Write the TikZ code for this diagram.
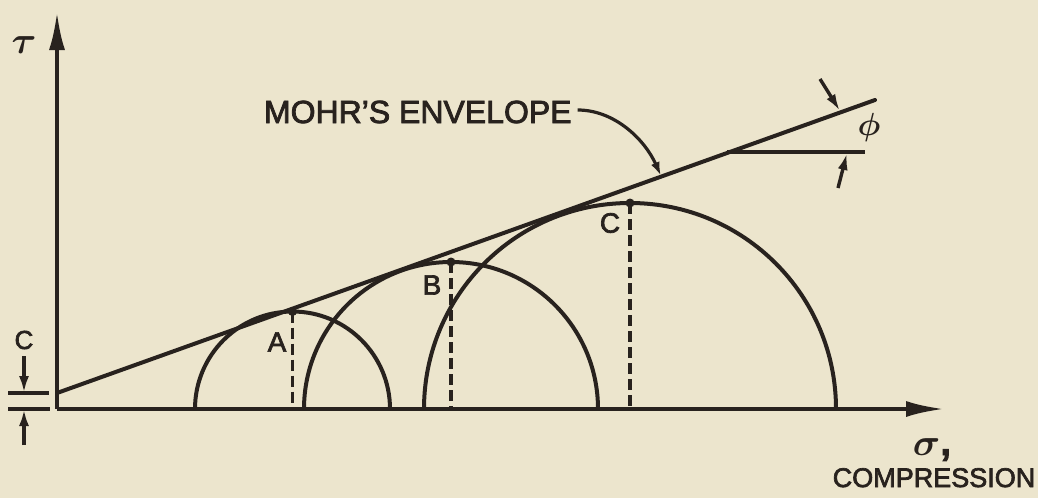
\RequirePackage{fix-cm}
\documentclass[tikz,border=0pt]{standalone}
\usepackage{fontspec}
\setmainfont{Liberation Sans}[FakeBold=2.5]
\usetikzlibrary{arrows.meta}
\definecolor{paper}{RGB}{236,229,205}
\definecolor{ink}{RGB}{40,34,30}
\begin{document}
\begin{tikzpicture}[x=1pt,y=-1pt, line width=4pt, draw=ink,
  axis/.style={-{Latex[length=38pt,width=16pt]}},
  dimarrow/.style={line width=3.4pt,-{Latex[length=17pt,width=10pt]}},
  dashv/.style={line width=3.8pt,dash pattern=on 11pt off 5pt},
  lbl/.style={text=ink,inner sep=0pt,font=\fontsize{28}{28}\selectfont},
  small/.style={text=ink,inner sep=0pt,font=\fontsize{26}{26}\selectfont},
  greek/.style={text=ink,inner sep=0pt,font=\fontsize{38}{38}\selectfont\boldmath}]
\fill[paper] (0,0) rectangle (1038,498);
\useasboundingbox (0,0) rectangle (1038,498);
% axes
\coordinate (O) at (57,409);
\coordinate (Ytip) at (57,12);
\coordinate (Xtip) at (944,409);
\draw[axis] (O) -- (Ytip);
\draw[axis] (O) -- (Xtip);
% envelope
\coordinate (E0) at (57,393);
\coordinate (E1) at (875,100);
\draw[line cap=round] (E0) -- (E1);
% circles
\draw (195,409) arc[start angle=180,end angle=360,radius=97.5];
\draw (304,409) arc[start angle=180,end angle=360,radius=147];
\draw (424,409) arc[start angle=180,end angle=360,radius=206];
\coordinate (TA) at (292.5,311.5);
\coordinate (TB) at (451,262);
\coordinate (TC) at (630,203);
\foreach \t in {TA,TB,TC}{
  \draw[dashv] (\t) -- (\t |- O);
  \fill[ink] (\t) circle[radius=4.5];
}
\node[lbl] (lA) at (277,342) {A};
\node[lbl] (lB) at (432,285) {B};
\node[lbl] (lC) at (610,223) {C};
% c intercept
\coordinate (t1a) at (8,393); \coordinate (t1b) at (49,393);
\coordinate (t2a) at (8,409); \coordinate (t2b) at (50,409);
\draw (t1a) -- (t1b);
\draw (t2a) -- (t2b);
\node[small] (cl) at (24,340) {C};
\coordinate (ca) at (24,356); \coordinate (ca2) at (24,393);
\coordinate (cb) at (24,445); \coordinate (cb2) at (24,409);
\draw[dimarrow] (ca) -- (ca2);
\draw[dimarrow] (cb) -- (cb2);
% labels
\node[greek] (tau) at (24,45) {$\tau$};
\node[greek,anchor=base] (sig) at (932,455) {$\sigma$\textbf{,}};
\node[small,anchor=base,font=\fontsize{27}{27}\selectfont] (comp) at (934,487) {COMPRESSION};
\node[text=ink,inner sep=0pt,font=\fontsize{32}{32}\selectfont,anchor=base west] (mohr) at (262,123) {MOHR\char"27 S ENVELOPE};
\coordinate (mt) at (661,176);
\draw[line width=3.2pt,-{Latex[length=14pt,width=9pt]}] ([xshift=4pt]mohr.east |- 0,110) .. controls (615,110) and (645,140) .. (mt);
% phi
\coordinate (H0) at (727,152);
\coordinate (H1) at (865,152);
\draw (H0) -- (H1);
\node[greek,font=\fontsize{32}{32}\selectfont\boldmath] (phi) at (869,127) {$\phi$};
\coordinate (pa) at (820,79); \coordinate (pa2) at (840,111);
\coordinate (pb) at (838,188); \coordinate (pb2) at (847,153);
\draw[dimarrow] (pa) -- (pa2);
\draw[dimarrow] (pb) -- (pb2);
\end{tikzpicture}
\end{document}
